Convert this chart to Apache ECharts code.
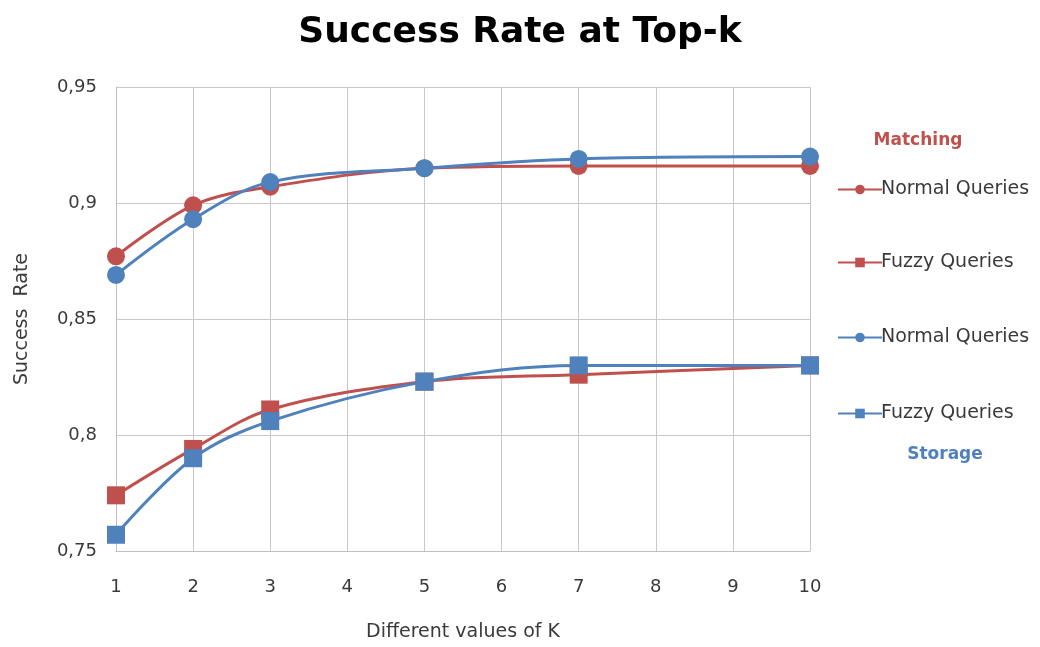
<!DOCTYPE html>
<html>
<head>
<meta charset="utf-8">
<script src="https://cdn.jsdelivr.net/npm/echarts@6/dist/echarts.min.js"></script>
<style>
  html, body { margin: 0; padding: 0; background: #fff; }
  #chart { width: 1040px; height: 647px; }
</style>
</head>
<body>
<div id="chart"></div>
<script>
// Values of K at which the success rate was measured
const kValues = [1, 2, 3, 5, 7, 10];

// Matching
const matchingNormal = [0.877, 0.899, 0.907, 0.915, 0.916, 0.916];
const matchingFuzzy  = [0.774, 0.794, 0.811, 0.823, 0.826, 0.830];
// Storage
const storageNormal  = [0.869, 0.893, 0.909, 0.915, 0.919, 0.920];
const storageFuzzy   = [0.757, 0.790, 0.806, 0.823, 0.830, 0.830];

const RED = '#C0504D';
const BLUE = '#4F81BD';
const FONT = '"DejaVu Sans", Verdana, sans-serif';
const TEXT = '#3a3a3a';

function pairs(values) {
  return kValues.map((k, i) => [k, values[i]]);
}

function lineSeries(name, values, color, symbol, size) {
  return {
    name: name,
    type: 'line',
    data: pairs(values),
    smooth: 0.35,
    symbol: symbol,
    symbolSize: size,
    lineStyle: { color: color, width: 3 },
    itemStyle: { color: color },
    emphasis: { disabled: true },
    z: 3
  };
}

const seriesNames = [
  'Matching Normal Queries',
  'Matching Fuzzy Queries',
  'Storage Normal Queries',
  'Storage Fuzzy Queries'
];
const legendTops = [175, 248, 323, 399];

const chart = echarts.init(document.getElementById('chart'));
chart.setOption({
  animation: false,
  backgroundColor: '#ffffff',
  textStyle: { fontFamily: FONT },
  title: [
    {
      text: 'Success Rate at Top-k',
      left: 'center',
      top: 10,
      textStyle: { fontFamily: FONT, fontSize: 36, fontWeight: 'bold', color: '#000' }
    },
    {
      text: 'Matching',
      left: 913, top: 127,
      textAlign: 'center',
      textStyle: { fontFamily: FONT, fontSize: 17, fontWeight: 'bold', color: RED }
    },
    {
      text: 'Storage',
      left: 940, top: 441,
      textAlign: 'center',
      textStyle: { fontFamily: FONT, fontSize: 17, fontWeight: 'bold', color: BLUE }
    }
  ],
  legend: seriesNames.map((name, i) => ({
    data: [name],
    left: 832,
    top: legendTops[i],
    itemWidth: 44,
    itemHeight: 12,
    itemGap: 2,
    selectedMode: false,
    formatter: n => n.replace(/^(Matching|Storage) /, ''),
    textStyle: { fontFamily: FONT, fontSize: 19, color: TEXT, padding: [0, 0, 0, -6] }
  })),
  grid: { left: 116, right: 230, top: 87, bottom: 91, containLabel: false },
  xAxis: {
    type: 'value',
    min: 1,
    max: 10,
    interval: 1,
    name: 'Different values of K',
    nameLocation: 'middle',
    nameGap: 72,
    nameTextStyle: { fontFamily: FONT, fontSize: 19, color: TEXT },
    axisLine: { show: true, lineStyle: { color: '#bfbfbf', width: 1 } },
    axisTick: { show: false },
    axisLabel: { margin: 27, fontFamily: FONT, fontSize: 18, color: TEXT },
    splitLine: { show: true, lineStyle: { color: '#c8c8c8', width: 1 } }
  },
  yAxis: {
    type: 'value',
    min: 0.75,
    max: 0.95,
    interval: 0.05,
    name: 'Success  Rate',
    nameLocation: 'middle',
    nameGap: 84,
    nameTextStyle: { fontFamily: FONT, fontSize: 19, color: TEXT },
    axisLine: { show: true, lineStyle: { color: '#bfbfbf', width: 1 } },
    axisTick: { show: false },
    axisLabel: {
      margin: 19,
      fontFamily: FONT,
      fontSize: 18,
      color: TEXT,
      formatter: v => String(Math.round(v * 100) / 100).replace('.', ',')
    },
    splitLine: { show: true, lineStyle: { color: '#c8c8c8', width: 1 } }
  },
  series: [
    lineSeries(seriesNames[0], matchingNormal, RED, 'circle', 18),
    lineSeries(seriesNames[1], matchingFuzzy, RED, 'rect', 18),
    lineSeries(seriesNames[2], storageNormal, BLUE, 'circle', 18),
    lineSeries(seriesNames[3], storageFuzzy, BLUE, 'rect', 18)
  ]
});
</script>
</body>
</html>
